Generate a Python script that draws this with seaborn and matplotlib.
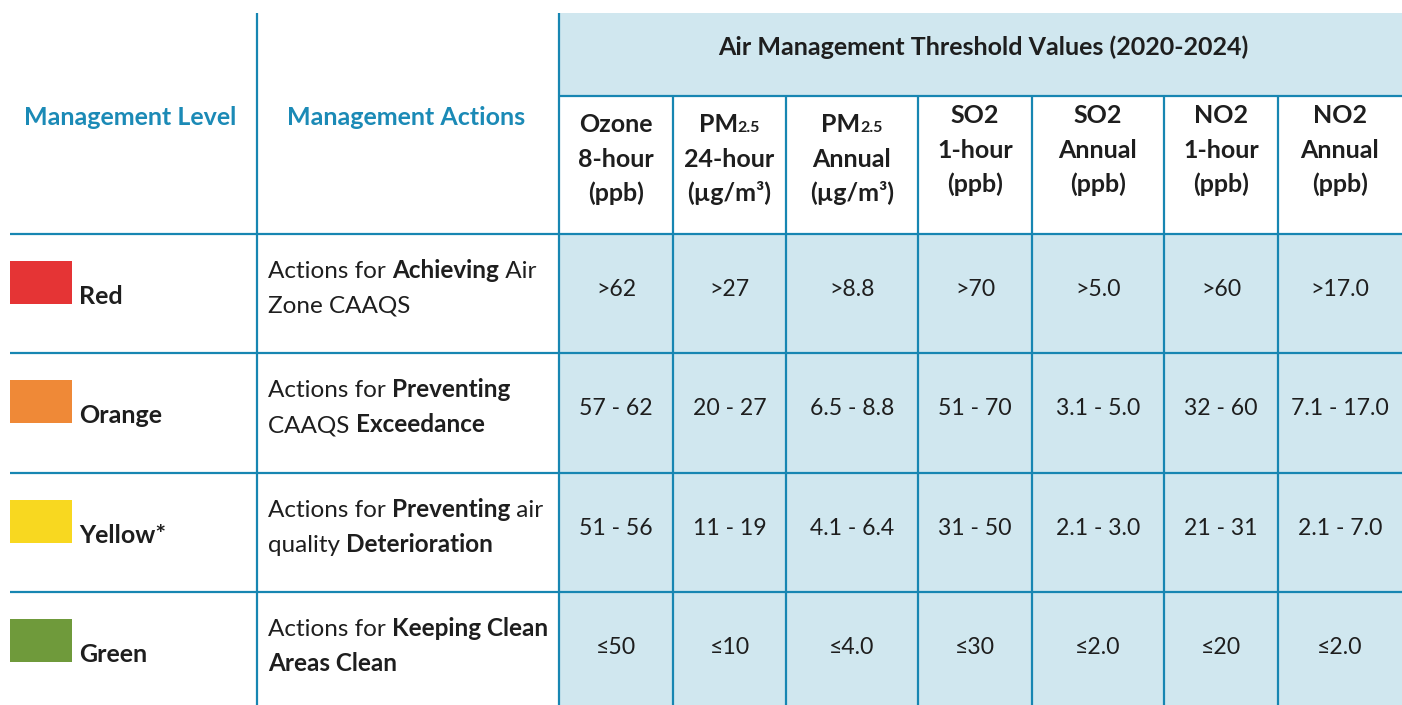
import matplotlib
matplotlib.use("Agg")
import matplotlib.pyplot as plt
from matplotlib.patches import Rectangle
import seaborn as sns

# ---- table content ----
title = "Air Management Threshold Values (2020-2024)"
level_header = "Management Level"
action_header = "Management Actions"

levels = ["Red", "Orange", "Yellow*", "Green"]
level_palette = ["#E53435", "#EF8937", "#F8D820", "#6F9A3B"]

# each action is two lines of (text, bold) runs
actions = [
    [[("Actions for ", False), ("Achieving", True), (" Air", False)],
     [("Zone CAAQS", False)]],
    [[("Actions for ", False), ("Preventing", True)],
     [("CAAQS ", False), ("Exceedance", True)]],
    [[("Actions for ", False), ("Preventing", True), (" air", False)],
     [("quality ", False), ("Deterioration", True)]],
    [[("Actions for ", False), ("Keeping Clean", True)],
     [("Areas Clean", True)]],
]

pollutants = ["Ozone", "PM", "PM", "SO2", "SO2", "NO2", "NO2"]
pollutant_sub = ["", "2.5", "2.5", "", "", "", ""]
periods = ["8-hour", "24-hour", "Annual", "1-hour", "Annual", "1-hour", "Annual"]
units = ["(ppb)", "(µg/m³)", "(µg/m³)", "(ppb)", "(ppb)", "(ppb)", "(ppb)"]

ozone_8h = [">62", "57 - 62", "51 - 56", "≤50"]
pm25_24h = [">27", "20 - 27", "11 - 19", "≤10"]
pm25_annual = [">8.8", "6.5 - 8.8", "4.1 - 6.4", "≤4.0"]
so2_1h = [">70", "51 - 70", "31 - 50", "≤30"]
so2_annual = [">5.0", "3.1 - 5.0", "2.1 - 3.0", "≤2.0"]
no2_1h = [">60", "32 - 60", "21 - 31", "≤20"]
no2_annual = [">17.0", "7.1 - 17.0", "2.1 - 7.0", "≤2.0"]
value_cols = [ozone_8h, pm25_24h, pm25_annual, so2_1h, so2_annual, no2_1h, no2_annual]

# ---- layout (pixels) ----
W, H = 1402, 705
line_c = "#1786B2"
fill_c = "#D0E7EF"
head_c = "#1B8AB6"
text_c = "#1E1E1E"
lw = 1.6
FS_HEAD = 18
FS_BODY = 17.5
FS_VAL = 16.6

col_edges = [559, 673, 786, 918, 1032, 1164, 1278, 1402]
row_edges = [234, 353, 473, 592, 705]

sns.set_theme(style="white")
plt.rcParams["font.family"] = ["Lato", "DejaVu Sans"]

fig = plt.figure(figsize=(W / 100, H / 100), dpi=100)
ax = fig.add_axes([0, 0, 1, 1])
ax.set_xlim(0, W)
ax.set_ylim(H, 0)
ax.axis("off")
renderer = fig.canvas.get_renderer()


def text_width(s, bold, size):
    t1 = ax.text(0, 0, "|" + s + "|", fontsize=size,
                 fontweight="bold" if bold else "normal")
    t2 = ax.text(0, 0, "||", fontsize=size,
                 fontweight="bold" if bold else "normal")
    w = t1.get_window_extent(renderer).width - t2.get_window_extent(renderer).width
    t1.remove()
    t2.remove()
    return w


def draw_runs(runs, x, y, align="left", color=text_c):
    # runs: list of (text, bold, size)
    widths = [text_width(s, b, sz) for s, b, sz in runs]
    if align == "center":
        x = x - sum(widths) / 2
    for (s, b, sz), w in zip(runs, widths):
        ax.text(x, y, s, fontsize=sz, fontweight="bold" if b else "normal",
                color=color, va="baseline", ha="left")
        x += w


# fills
ax.add_patch(Rectangle((559, 13), W - 559, 96 - 13, color=fill_c, lw=0))
ax.add_patch(Rectangle((559, 234), W - 559, H - 234, color=fill_c, lw=0))

# grid lines
for x in [257, 559]:
    ax.plot([x, x], [13, H], color=line_c, lw=lw, solid_capstyle="butt")
for x in col_edges[1:-1]:
    ax.plot([x, x], [96, H], color=line_c, lw=lw, solid_capstyle="butt")
ax.plot([559, W], [96, 96], color=line_c, lw=lw, solid_capstyle="butt")
for y in row_edges[:-1]:
    ax.plot([10, W], [y, y], color=line_c, lw=lw, solid_capstyle="butt")

# headers
ax.text((559 + W) / 2 + 3, 55, title, fontsize=FS_HEAD, fontweight="bold",
        color=text_c, ha="center", va="baseline")
ax.text(130, 125, level_header, fontsize=FS_HEAD, fontweight="bold",
        color=head_c, ha="center", va="baseline")
ax.text(406, 125, action_header, fontsize=FS_HEAD, fontweight="bold",
        color=head_c, ha="center", va="baseline")

for i in range(len(pollutants)):
    cx = (col_edges[i] + col_edges[i + 1]) / 2
    base = 132 if i < 3 else 123
    first = [(pollutants[i], True, FS_HEAD)]
    if pollutant_sub[i]:
        first.append((pollutant_sub[i], True, FS_HEAD * 0.64))
    draw_runs(first, cx, base, align="center")
    draw_runs([(periods[i], True, FS_HEAD)], cx, base + 35, align="center")
    draw_runs([(units[i], True, FS_HEAD)], cx, base + 69, align="center")

# body rows
for r, level in enumerate(levels):
    top = row_edges[r]
    ax.add_patch(Rectangle((10, top + 27), 62, 43, color=level_palette[r], lw=0))
    ax.text(79, top + 70, level, fontsize=FS_HEAD, fontweight="bold",
            color=text_c, va="baseline")
    for k, line in enumerate(actions[r]):
        draw_runs([(s, b, FS_BODY) for s, b in line], 268, top + 44 + 35 * k)
    for c, col in enumerate(value_cols):
        cx = (col_edges[c] + col_edges[c + 1]) / 2
        ax.text(cx, top + 62, col[r], fontsize=FS_VAL, color=text_c,
                ha="center", va="baseline")

fig.savefig("out.png", dpi=100, facecolor="white")
